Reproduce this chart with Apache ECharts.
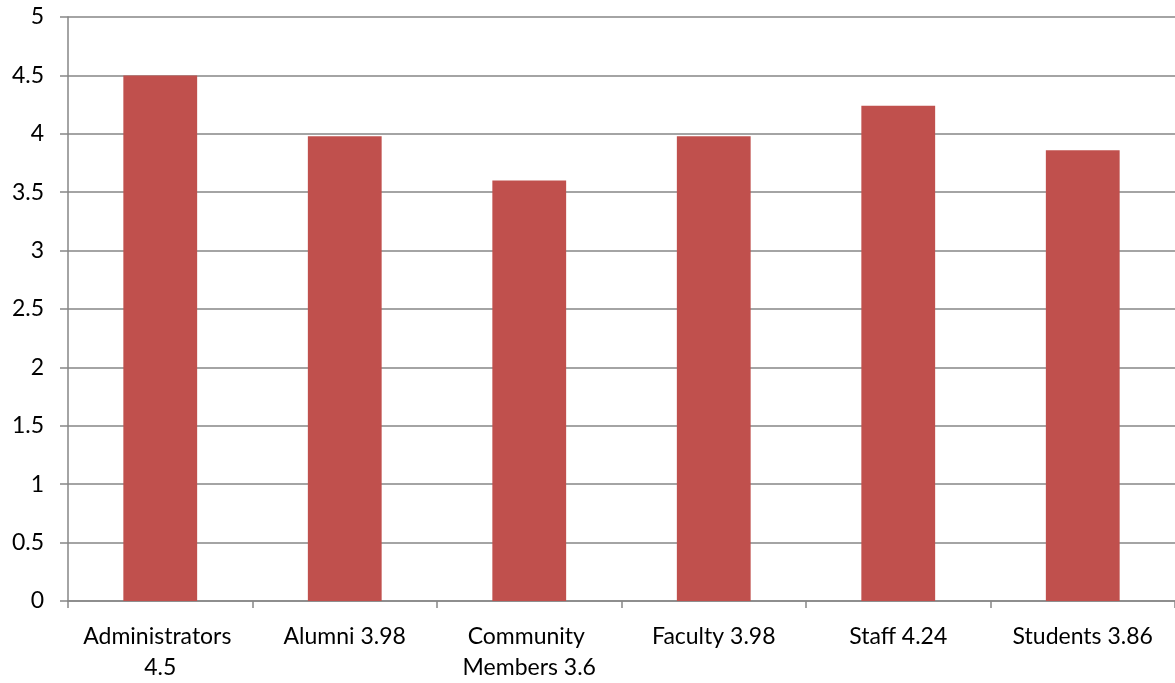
<!DOCTYPE html>
<html>
<head>
<meta charset="utf-8">
<script src="https://cdn.jsdelivr.net/npm/echarts@6/dist/echarts.min.js"></script>
<style>html,body{margin:0;padding:0;background:#fff}#c{width:1175px;height:683px}</style>
</head>
<body>
<div id="c"></div>
<script>
const categories = ["Administrators 4.5", "Alumni 3.98", "Community Members 3.6", "Faculty 3.98", "Staff 4.24", "Students 3.86"];
const values = [4.5, 3.98, 3.6, 3.98, 4.24, 3.86];
const yTicks = { min: 0, max: 5, interval: 0.5 };

const chart = echarts.init(document.getElementById('c'));
chart.setOption({
  animation: false,
  grid: { left: 68, right: 0, top: 17, bottom: 81 },
  xAxis: {
    type: 'category',
    data: categories,
    axisLine: { lineStyle: { color: '#868686', width: 1.5 } },
    axisTick: { show: true, length: 7, lineStyle: { color: '#868686', width: 1.5 } },
    axisLabel: {
      interval: 0, margin: 20, width: 172, overflow: 'break',
      fontFamily: 'Lato', fontSize: 23, color: '#000', lineHeight: 31
    }
  },
  yAxis: {
    type: 'value',
    min: yTicks.min, max: yTicks.max, interval: yTicks.interval,
    axisLine: { show: true, lineStyle: { color: '#868686', width: 1.5 } },
    axisTick: { show: true, length: 8, lineStyle: { color: '#868686', width: 1.5 } },
    splitLine: { lineStyle: { color: '#868686', width: 1.5 } },
    axisLabel: { margin: 24, fontFamily: 'Lato', fontSize: 23, color: '#000' }
  },
  series: [{
    type: 'bar',
    data: values,
    barWidth: '40%',
    itemStyle: { color: '#C0504D' }
  }]
});
</script>
</body>
</html>
